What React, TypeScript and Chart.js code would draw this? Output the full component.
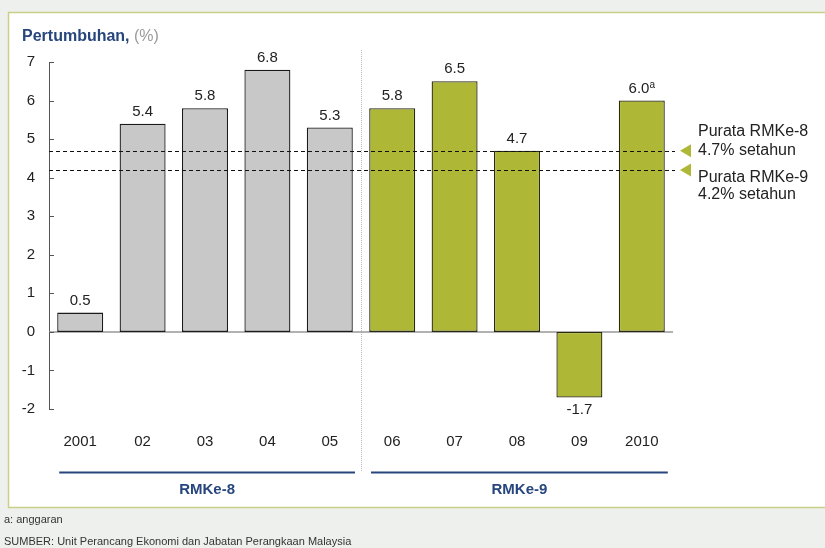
import React, { useEffect, useRef } from "react";
import { Chart, registerables } from "chart.js";

Chart.register(...registerables);

const years = ["2001", "02", "03", "04", "05", "06", "07", "08", "09", "2010"];
const growth = [0.5, 5.4, 5.8, 6.8, 5.3, 5.8, 6.5, 4.7, -1.7, 6.0];
const valueLabels = ["0.5", "5.4", "5.8", "6.8", "5.3", "5.8", "6.5", "4.7", "-1.7", "6.0"];
const superscripts = ["", "", "", "", "", "", "", "", "", "a"];
const planOf = [0, 0, 0, 0, 0, 1, 1, 1, 1, 1];
const plans = ["RMKe-8", "RMKe-9"];
const averages = [4.7, 4.2];
const averageLines1 = ["Purata RMKe-8", "Purata RMKe-9"];
const averageLines2 = ["4.7% setahun", "4.2% setahun"];
const yTicks = [-2, -1, 0, 1, 2, 3, 4, 5, 6, 7];

const FONT = "'Liberation Sans', Arial, Helvetica, sans-serif";
const NAVY = "#26467d";
const GREY_BAR = "#c8c8c8";
const GREEN_BAR = "#afb836";

const decorPlugin = {
  id: "decor",
  beforeDraw(chart: any) {
    const ctx = chart.ctx;
    ctx.save();
    ctx.fillStyle = "#eef0ee";
    ctx.fillRect(0, 0, chart.width, chart.height);
    ctx.fillStyle = "#ffffff";
    ctx.fillRect(8.5, 12.5, chart.width + 10, 495);
    ctx.strokeStyle = "#c9cf86";
    ctx.lineWidth = 1.5;
    ctx.strokeRect(8.5, 12.5, chart.width + 10, 495);

    // title
    ctx.textBaseline = "alphabetic";
    ctx.textAlign = "left";
    ctx.font = `bold 16px ${FONT}`;
    ctx.fillStyle = NAVY;
    const t1 = "Pertumbuhan,";
    ctx.fillText(t1, 22, 41);
    const w1 = ctx.measureText(t1).width;
    ctx.font = `16px ${FONT}`;
    ctx.fillStyle = "#9a9a9a";
    ctx.fillText(" (%)", 22 + w1, 41);

    // footer
    ctx.font = `11px ${FONT}`;
    ctx.fillStyle = "#333";
    ctx.fillText("a: anggaran", 4, 523);
    ctx.fillText("SUMBER: Unit Perancang Ekonomi dan Jabatan Perangkaan Malaysia", 4, 545);
    ctx.restore();
  },
  beforeDatasetsDraw(chart: any) {
    const ctx = chart.ctx;
    const x = chart.scales.x;
    const y = chart.scales.y;
    const area = chart.chartArea;
    ctx.save();
    // divider
    const div = (x.getPixelForValue(4) + x.getPixelForValue(5)) / 2;
    ctx.strokeStyle = "#b8b8b8";
    ctx.lineWidth = 1;
    ctx.setLineDash([1, 1]);
    ctx.beginPath();
    ctx.moveTo(Math.round(div) + 0.5, 50);
    ctx.lineTo(Math.round(div) + 0.5, 472);
    ctx.stroke();
    ctx.setLineDash([]);
    // zero line
    ctx.strokeStyle = "#999";
    ctx.lineWidth = 1.5;
    const y0 = y.getPixelForValue(0);
    ctx.beginPath();
    ctx.moveTo(area.left, y0);
    ctx.lineTo(area.right, y0);
    ctx.stroke();
    // y tick marks
    ctx.strokeStyle = "#555";
    ctx.lineWidth = 1;
    yTicks.forEach((v) => {
      const py = Math.round(y.getPixelForValue(v)) + 0.5;
      ctx.beginPath();
      ctx.moveTo(area.left, py);
      ctx.lineTo(area.left + 5, py);
      ctx.stroke();
    });
    ctx.restore();
  },
  afterDatasetsDraw(chart: any) {
    const ctx = chart.ctx;
    const x = chart.scales.x;
    const y = chart.scales.y;
    const area = chart.chartArea;
    const meta = chart.getDatasetMeta(0);
    ctx.save();
    // value labels
    meta.data.forEach((el: any, i: number) => {
      const v = growth[i];
      const main = valueLabels[i];
      const sup = superscripts[i];
      ctx.font = `15px ${FONT}`;
      const wm = ctx.measureText(main).width;
      ctx.font = `10px ${FONT}`;
      const ws = sup ? ctx.measureText(sup).width : 0;
      const start = el.x - (wm + ws) / 2;
      const baseY = v >= 0 ? el.y - 8 : el.y + 17;
      ctx.textAlign = "left";
      ctx.textBaseline = "alphabetic";
      ctx.fillStyle = "#222";
      ctx.font = `15px ${FONT}`;
      ctx.fillText(main, start, baseY);
      if (sup) {
        ctx.font = `10px ${FONT}`;
        ctx.fillText(sup, start + wm, baseY - 5);
      }
    });

    // average dashed lines
    ctx.strokeStyle = "#111";
    ctx.lineWidth = 1;
    ctx.setLineDash([4, 3]);
    averages.forEach((a) => {
      const py = Math.round(y.getPixelForValue(a)) + 0.5;
      ctx.beginPath();
      ctx.moveTo(area.left, py);
      ctx.lineTo(area.right + 2, py);
      ctx.stroke();
    });
    ctx.setLineDash([]);

    // triangles + annotation text
    averages.forEach((a) => {
      const py = y.getPixelForValue(a);
      ctx.fillStyle = GREEN_BAR;
      ctx.beginPath();
      ctx.moveTo(area.right + 7, py);
      ctx.lineTo(area.right + 18, py - 6.5);
      ctx.lineTo(area.right + 18, py + 6.5);
      ctx.closePath();
      ctx.fill();
    });
    ctx.fillStyle = "#222";
    ctx.font = `16px ${FONT}`;
    ctx.textAlign = "left";
    ctx.textBaseline = "alphabetic";
    const tx = area.right + 25;
    const p8 = y.getPixelForValue(averages[0]);
    const p9 = y.getPixelForValue(averages[1]);
    ctx.fillText(averageLines1[0], tx, p8 - 15);
    ctx.fillText(averageLines2[0], tx, p8 + 4);
    ctx.fillText(averageLines1[1], tx, p9 + 12);
    ctx.fillText(averageLines2[1], tx, p9 + 29);

    // plan group lines + labels
    const div = (x.getPixelForValue(4) + x.getPixelForValue(5)) / 2;
    const segs = [
      [x.getPixelForValue(0) - 21, div - 6],
      [div + 10, x.getPixelForValue(9) + 26],
    ];
    segs.forEach((s, i) => {
      ctx.strokeStyle = NAVY;
      ctx.lineWidth = 2;
      ctx.beginPath();
      ctx.moveTo(s[0], 472.5);
      ctx.lineTo(s[1], 472.5);
      ctx.stroke();
      ctx.fillStyle = NAVY;
      ctx.font = `bold 15px ${FONT}`;
      ctx.textAlign = "center";
      ctx.textBaseline = "middle";
      ctx.fillText(plans[i], (s[0] + s[1]) / 2, 490);
    });
    ctx.restore();
  },
};

export default function App() {
  const ref = useRef<HTMLCanvasElement | null>(null);
  useEffect(() => {
    if (!ref.current) return;
    const chart = new Chart(ref.current, {
      type: "bar",
      data: {
        labels: years,
        datasets: [
          {
            data: growth,
            backgroundColor: planOf.map((p) => (p === 0 ? GREY_BAR : GREEN_BAR)),
            borderColor: planOf.map((p) => (p === 0 ? "#1a1a1a" : "#2a2a10")),
            borderWidth: 1.3,
            borderSkipped: false,
            categoryPercentage: 1,
            barPercentage: 0.737,
          },
        ],
      },
      options: {
        responsive: false,
        animation: false,
        devicePixelRatio: 1,
        layout: { padding: { top: 62, left: 8, right: 152, bottom: 89 } },
        plugins: {
          legend: { display: false },
          tooltip: { enabled: false },
          title: { display: false },
        },
        scales: {
          x: {
            grid: { display: false, drawTicks: false },
            border: { display: false },
            ticks: { font: { size: 15, family: FONT }, color: "#222", padding: 24, maxRotation: 0 },
            afterFit: (s: any) => {
              s.height = 50;
            },
          },
          y: {
            min: -2,
            max: 7,
            grid: { display: false, drawTicks: false },
            border: { display: true, color: "#555", width: 1 },
            ticks: {
              stepSize: 1,
              font: { size: 15, family: FONT },
              color: "#222",
              padding: 14,
            },
            afterFit: (s: any) => {
              s.width = 41;
            },
          },
        },
      },
      plugins: [decorPlugin],
    });
    return () => chart.destroy();
  }, []);
  return (
    <div style={{ position: "absolute", left: 0, top: 0, width: 825, height: 548 }}>
      <canvas ref={ref} width={825} height={548} style={{ width: 825, height: 548 }} />
    </div>
  );
}
